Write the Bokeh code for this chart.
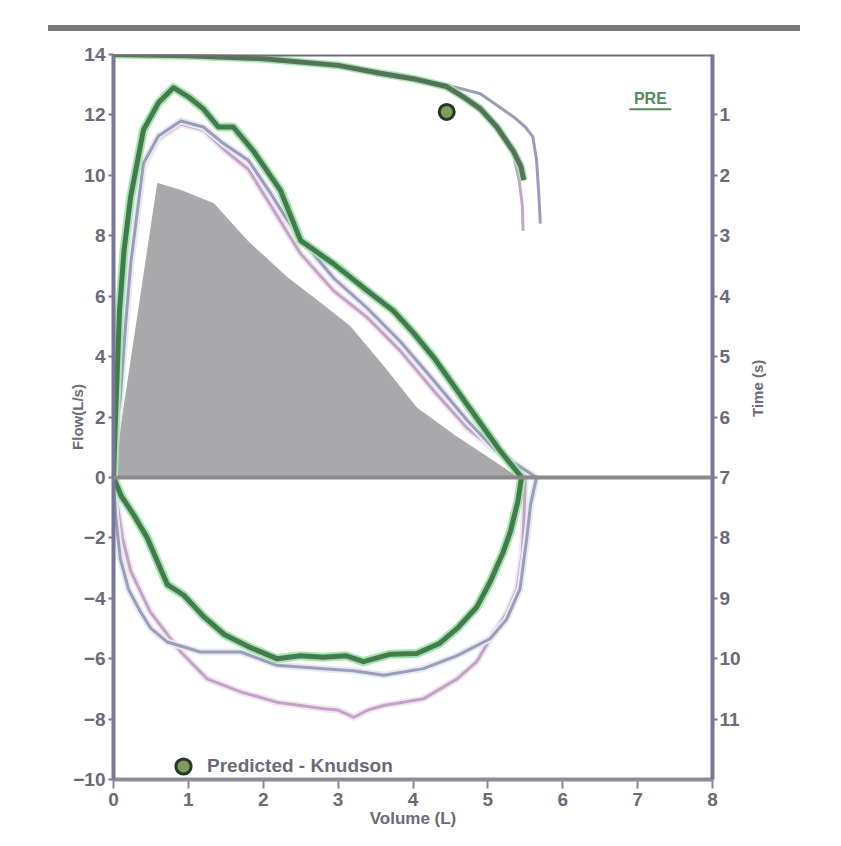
import math
from bokeh.plotting import figure
from bokeh.models import (Range1d, LinearAxis, FixedTicker, Span, Div,
                          Legend, LegendItem)
from bokeh.layouts import column, row
from bokeh.embed import file_html
from bokeh.resources import INLINE
from bokeh.core.properties import value

# ---------------- data ----------------
# Predicted (reference) expiratory area
pred_vol = [0, 0.59, 0.9, 1.34, 1.8, 2.32, 2.75, 3.16, 3.6, 4.05, 4.55, 5.08, 5.4]
pred_flow = [0, 9.73, 9.5, 9.06, 7.8, 6.62, 5.8, 5.0, 3.7, 2.3, 1.4, 0.53, 0]

# Best trial (green) - expiratory and inspiratory
g_exp_vol = [0, 0.02, 0.05, 0.08, 0.14, 0.23, 0.4, 0.6, 0.8, 1.0, 1.2, 1.4, 1.6, 1.87,
             2.23, 2.5, 2.94, 3.39, 3.74, 4.0, 4.28, 4.72, 5.17, 5.45]
g_exp_flow = [0, 1.5, 3.5, 5.5, 7.5, 9.3, 11.5, 12.4, 12.9, 12.6, 12.2, 11.6, 11.6, 10.8,
              9.5, 7.84, 7.07, 6.18, 5.51, 4.8, 3.96, 2.42, 0.86, 0]
g_ins_vol = [0, 0.1, 0.27, 0.45, 0.72, 0.94, 1.2, 1.48, 1.8, 2.18, 2.5, 2.8, 3.1, 3.34,
             3.7, 4.05, 4.35, 4.59, 4.85, 5.03, 5.2, 5.3, 5.4, 5.45]
g_ins_flow = [0, -0.6, -1.24, -2.0, -3.55, -3.9, -4.6, -5.2, -5.6, -6.0, -5.9, -5.95, -5.9,
              -6.1, -5.85, -5.83, -5.5, -5.0, -4.3, -3.46, -2.5, -1.8, -0.8, 0]

# Trial A (lavender)
a_exp_vol = [0, 0.03, 0.09, 0.16, 0.23, 0.4, 0.6, 0.9, 1.2, 1.47, 1.8, 2.1, 2.3, 2.5,
             2.94, 3.39, 3.83, 4.28, 4.72, 5.1, 5.4, 5.65]
a_exp_flow = [0, 1.5, 2.6, 5.0, 7.07, 10.4, 11.3, 11.8, 11.6, 11.05, 10.5, 9.4, 8.6, 7.9,
              6.6, 5.6, 4.5, 3.2, 1.9, 0.9, 0.4, 0]
a_ins_vol = [0, 0.03, 0.09, 0.2, 0.36, 0.5, 0.72, 1.16, 1.7, 2.18, 2.81, 3.2, 3.61, 4.14,
             4.59, 5.03, 5.25, 5.43, 5.52, 5.57, 5.65]
a_ins_flow = [0, -1.3, -2.68, -3.7, -4.45, -5.0, -5.45, -5.78, -5.78, -6.22, -6.33, -6.4,
              -6.55, -6.33, -5.9, -5.34, -4.7, -3.68, -2.0, -0.9, 0]

# Trial B (pink)
b_exp_vol = [0, 0.03, 0.09, 0.16, 0.23, 0.4, 0.6, 0.9, 1.2, 1.5, 1.8, 2.1, 2.3, 2.5,
             2.94, 3.39, 3.83, 4.28, 4.72, 5.1, 5.39, 5.5]
b_exp_flow = [0, 1.2, 2.6, 5.0, 7.0, 10.3, 11.2, 11.7, 11.5, 10.8, 10.2, 9.0, 8.2, 7.4,
              6.18, 5.29, 4.19, 2.86, 1.64, 0.9, 0.43, 0]
b_ins_vol = [0, 0.05, 0.12, 0.23, 0.49, 0.9, 1.25, 1.7, 2.18, 2.81, 3.0, 3.21, 3.4, 3.61,
             4.14, 4.59, 4.85, 5.03, 5.25, 5.39, 5.46, 5.48, 5.5]
b_ins_flow = [0, -0.9, -2.0, -3.1, -4.45, -5.78, -6.67, -7.1, -7.44, -7.66, -7.7, -7.94,
              -7.7, -7.55, -7.33, -6.67, -6.1, -5.34, -4.5, -3.68, -2.5, -1.46, 0]

# Volume-time curves (volume, time in s)
g_vt_vol = [0, 1.0, 2.0, 3.0, 3.56, 4.0, 4.45, 4.67, 4.9, 5.12, 5.34, 5.44, 5.48]
g_vt_time = [0, 0.02, 0.07, 0.18, 0.31, 0.4, 0.53, 0.7, 0.9, 1.2, 1.6, 1.85, 2.08]
a_vt_vol = [0, 1.0, 2.0, 3.0, 3.6, 4.1, 4.5, 4.9, 5.34, 5.5, 5.6, 5.65, 5.68, 5.7]
a_vt_time = [0, 0.02, 0.07, 0.18, 0.3, 0.42, 0.52, 0.65, 1.03, 1.2, 1.36, 1.75, 2.3, 2.8]
b_vt_vol = [0, 1.0, 2.0, 3.0, 3.56, 4.0, 4.45, 4.9, 5.15, 5.33, 5.42, 5.46, 5.47]
b_vt_time = [0, 0.02, 0.07, 0.18, 0.31, 0.41, 0.55, 0.85, 1.2, 1.6, 2.1, 2.5, 2.92]

# Predicted peak flow point (Knudson)
pk_vol = [4.45]
pk_flow = [12.1]

flow_ticks = [-10, -8, -6, -4, -2, 0, 2, 4, 6, 8, 10, 12, 14]
time_ticks = [1, 2, 3, 4, 5, 6, 7, 8, 9, 10, 11]
vol_ticks = [0, 1, 2, 3, 4, 5, 6, 7, 8]

pre_label_x = [7.17]
pre_label_y = [12.55]

# ---------------- figure ----------------
FONT = "Liberation Sans"
AX_COL = "#77779a"
LBL_COL = "#6a6a78"

p = figure(frame_width=599, frame_height=725,
           min_border_left=113, min_border_right=115,
           min_border_top=16, min_border_bottom=60,
           x_range=Range1d(0, 8), y_range=Range1d(-10, 14),
           output_backend="svg", toolbar_location=None,
           x_axis_location=None, y_axis_location=None)
p.extra_y_ranges = {"time": Range1d(start=12, end=0)}
p.grid.visible = False
p.outline_line_color = None
p.background_fill_color = "white"
p.border_fill_color = "white"

def style_axis(ax, line_color):
    ax.axis_line_color = line_color
    ax.axis_line_width = 4
    ax.major_tick_line_color = line_color
    ax.major_tick_line_width = 2
    ax.major_tick_in = 0
    ax.major_tick_out = 5
    ax.minor_tick_line_color = None
    ax.major_label_text_font = FONT
    ax.major_label_text_font_style = "bold"
    ax.major_label_text_font_size = "19px"
    ax.major_label_text_color = LBL_COL
    ax.axis_label_text_font = FONT
    ax.axis_label_text_font_style = "bold"
    ax.axis_label_text_font_size = "15px"
    ax.axis_label_text_color = LBL_COL

left = LinearAxis(ticker=FixedTicker(ticks=flow_ticks), axis_label="Flow(L/s)")
style_axis(left, AX_COL)
left.major_label_standoff = 3
left.axis_label_standoff = -16
p.add_layout(left, "left")

right = LinearAxis(y_range_name="time", ticker=FixedTicker(ticks=time_ticks),
                   axis_label="Time (s)")
style_axis(right, AX_COL)
right.major_label_standoff = 2
right.axis_label_standoff = 14
right.axis_label_orientation = math.pi / 2
p.add_layout(right, "right")

bottom = LinearAxis(ticker=FixedTicker(ticks=vol_ticks), axis_label="Volume (L)")
style_axis(bottom, "#8a8a98")
bottom.major_tick_out = 9
bottom.major_label_standoff = 4
bottom.axis_label_standoff = 0
bottom.axis_label_text_font_size = "17px"
p.add_layout(bottom, "below")

# frame top line and zero line
p.add_layout(Span(location=14, dimension="width", line_color="#6e6e6e", line_width=4))
p.add_layout(Span(location=0, dimension="width", line_color="#8a8a8a", line_width=4))

# predicted area
p.patch(pred_vol, pred_flow, fill_color="#a9a9ab", line_color="#a9a9ab", line_width=1)

def loop(ev, ef, iv, if_):
    return ev + iv[::-1][1:], ef + if_[::-1][1:]

ax_, ay_ = loop(a_exp_vol, a_exp_flow, a_ins_vol, a_ins_flow)
bx_, by_ = loop(b_exp_vol, b_exp_flow, b_ins_vol, b_ins_flow)
gx_, gy_ = loop(g_exp_vol, g_exp_flow, g_ins_vol, g_ins_flow)

# trial B (pink) and A (lavender)
p.line(bx_, by_, line_color="#f3e6f2", line_width=7, line_join="round")
p.line(bx_, by_, line_color="#bfa4c4", line_width=3, line_join="round")
p.line(ax_, ay_, line_color="#e8eaf3", line_width=7, line_join="round")
p.line(ax_, ay_, line_color="#9a9cb8", line_width=3, line_join="round")
# best trial (green) with halo
p.line(gx_, gy_, line_color="#a6e6ae", line_width=9, line_join="round")
p.line(gx_, gy_, line_color="#437a50", line_width=5, line_join="round")

# volume-time curves
p.line(b_vt_vol, b_vt_time, y_range_name="time", line_color="#c2a6c6", line_width=3)
p.line(a_vt_vol, a_vt_time, y_range_name="time", line_color="#9a9cb8", line_width=3)
p.line(g_vt_vol, g_vt_time, y_range_name="time", line_color="#a6e6ae", line_width=8)
p.line(g_vt_vol, g_vt_time, y_range_name="time", line_color="#56705c", line_width=5)

# predicted point
pk = p.scatter(pk_vol, pk_flow, size=15, marker="circle", fill_color="#7f9c5c",
               line_color="#26362a", line_width=3)

# PRE label with underline
p.text(pre_label_x, pre_label_y, text=["PRE"], text_font=value(FONT),
       text_font_style="bold", text_font_size="16px", text_color="#4f8a5a",
       text_align="center", text_baseline="middle")
p.segment(x0=[x - 0.28 for x in pre_label_x], y0=[y - 0.36 for y in pre_label_y],
          x1=[x + 0.28 for x in pre_label_x], y1=[y - 0.36 for y in pre_label_y],
          line_color="#4f8a5a", line_width=2)

legend = Legend(items=[LegendItem(label="Predicted - Knudson", renderers=[pk])],
                location=(51, -6), orientation="vertical",
                background_fill_alpha=0, border_line_alpha=0,
                padding=0, margin=0, glyph_width=38, glyph_height=38,
                label_standoff=5, label_text_font=FONT, label_text_font_style="bold",
                label_text_font_size="19px", label_text_color=LBL_COL)
p.add_layout(legend)

header = Div(width=827, height=28,
             text='<div style="position:absolute;left:43px;top:20px;width:752px;'
                  'height:6px;background:#787878;"></div>')
band = Div(width=14, height=840,
           text='<div style="width:14px;height:826px;margin-top:14px;'
                'background:#a3a3a3;"></div>')

layout = row(column(header, p, spacing=0), band, spacing=0)

open("out.html", "w").write(file_html(layout, INLINE))
